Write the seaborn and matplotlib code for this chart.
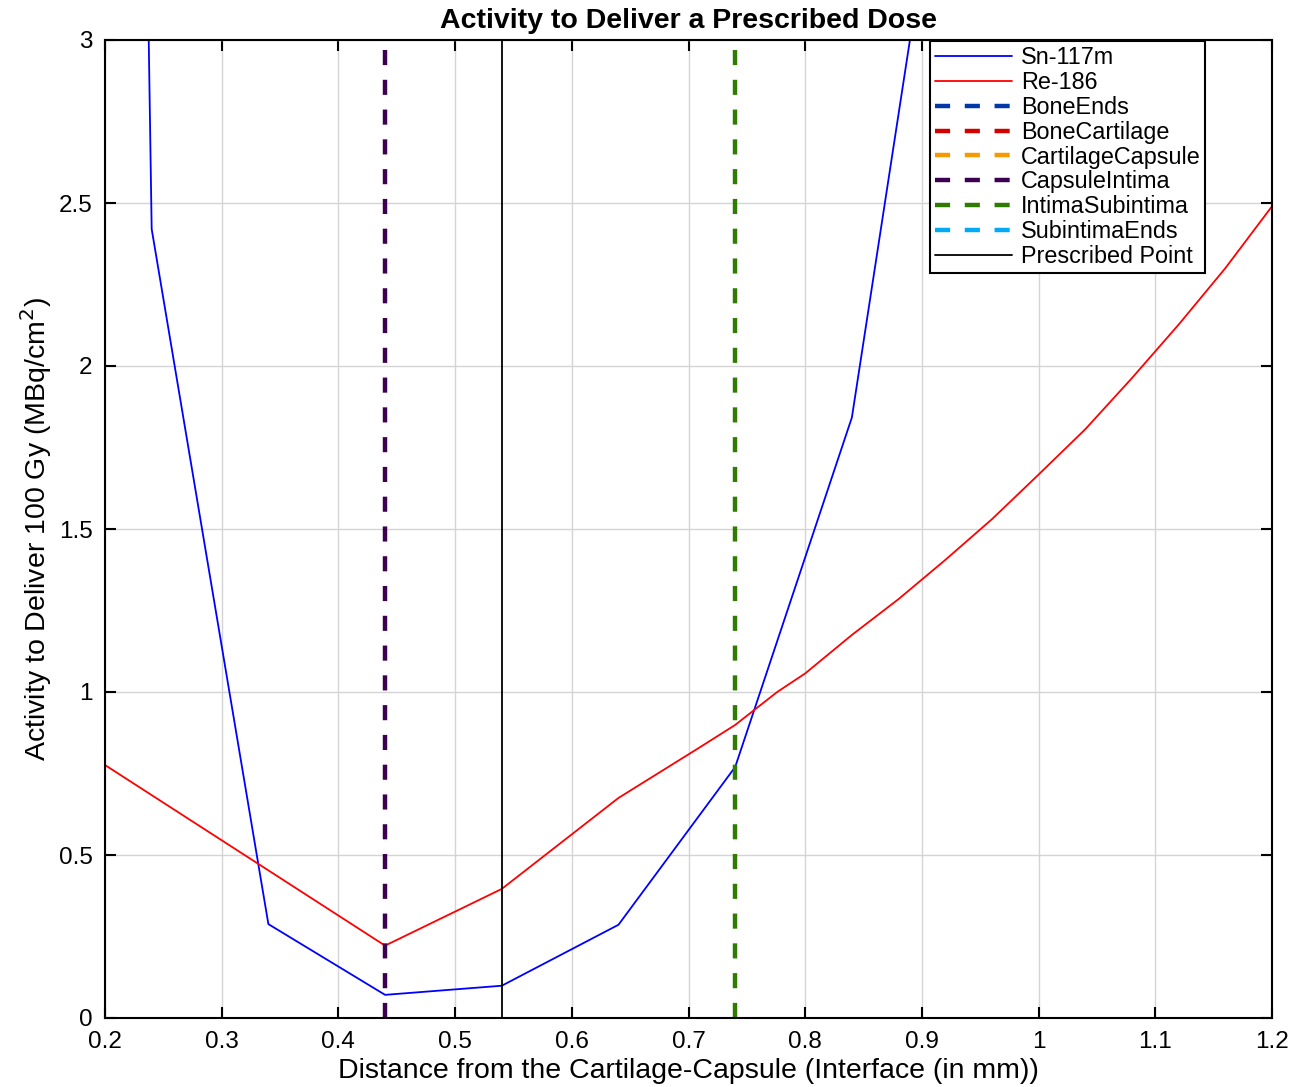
import matplotlib
matplotlib.use("Agg")
import matplotlib.pyplot as plt
import seaborn as sns
import pandas as pd

# ---- data ----
sn_x = [0.14, 0.24, 0.34, 0.44, 0.54, 0.64, 0.74, 0.84, 0.94]
sn_y = [25.3, 2.42, 0.288, 0.071, 0.099, 0.286, 0.770, 1.842, 4.17]

re_x = [0.20, 0.44, 0.54, 0.64, 0.71, 0.74, 0.776, 0.80, 0.84, 0.88, 0.92,
        0.96, 1.00, 1.04, 1.08, 1.12, 1.16, 1.20]
re_y = [0.776, 0.222, 0.396, 0.675, 0.831, 0.899, 1.000, 1.057, 1.175, 1.285,
        1.405, 1.530, 1.667, 1.806, 1.963, 2.127, 2.300, 2.490]

interface_names = ["BoneEnds", "BoneCartilage", "CartilageCapsule",
                   "CapsuleIntima", "IntimaSubintima", "SubintimaEnds"]
interface_x = [-3.06, -0.26, 0.0, 0.44, 0.74, 5.74]
interface_colors = ["#0038A8", "#D40000", "#F59B00", "#3D0050", "#2E7D00", "#00AAF5"]
prescribed_x = 0.54

x_ticks = [0.2, 0.3, 0.4, 0.5, 0.6, 0.7, 0.8, 0.9, 1.0, 1.1, 1.2]
x_tick_labels = ["0.2", "0.3", "0.4", "0.5", "0.6", "0.7", "0.8", "0.9", "1", "1.1", "1.2"]
y_ticks = [0, 0.5, 1, 1.5, 2, 2.5, 3]
y_tick_labels = ["0", "0.5", "1", "1.5", "2", "2.5", "3"]

# ---- style ----
sns.set_theme(style="whitegrid")
plt.rcParams["font.family"] = ["Liberation Sans", "DejaVu Sans"]
plt.rcParams["text.color"] = "black"
plt.rcParams["axes.labelcolor"] = "black"
plt.rcParams["xtick.color"] = "black"
plt.rcParams["ytick.color"] = "black"

fig = plt.figure(figsize=(12.94, 10.87), dpi=100)
ax = fig.add_axes([105 / 1294, 1 - 1018 / 1087, (1272 - 105) / 1294, (1018 - 40) / 1087])

df_sn = pd.DataFrame({"x": sn_x, "y": sn_y})
df_re = pd.DataFrame({"x": re_x, "y": re_y})

sns.lineplot(data=df_sn, x="x", y="y", ax=ax, color="#0000FF", lw=1.3,
             label="Sn-117m", sort=False, estimator=None)
sns.lineplot(data=df_re, x="x", y="y", ax=ax, color="#FF0000", lw=1.3,
             label="Re-186", sort=False, estimator=None)

for name, xv, c in zip(interface_names, interface_x, interface_colors):
    ax.axvline(xv, color=c, lw=3.2, linestyle=(0, (3.4, 3.3)), label=name)
ax.axvline(prescribed_x, color="black", lw=1.3, label="Prescribed Point")

ax.set_xlim(0.2, 1.2)
ax.set_ylim(0, 3)
ax.set_xticks(x_ticks)
ax.set_xticklabels(x_tick_labels)
ax.set_yticks(y_ticks)
ax.set_yticklabels(y_tick_labels)

ax.grid(True, color="#D4D4D4", lw=1.0)
ax.set_facecolor("white")
for s in ax.spines.values():
    s.set_color("black")
    s.set_linewidth(1.5)
ax.tick_params(axis="both", direction="in", length=8, width=1.5, colors="black",
               labelsize=17.5, top=True, right=True, bottom=True, left=True)
ax.tick_params(axis="x", pad=9)
ax.tick_params(axis="y", pad=9)

ax.set_title("Activity to Deliver a Prescribed Dose", fontsize=20.5, fontweight="bold",
             pad=9, color="black")
ax.set_xlabel("Distance from the Cartilage-Capsule (Interface (in mm))", fontsize=20.5,
              labelpad=4)
ax.set_ylabel("Activity to Deliver 100 Gy (MBq/cm$^2$)", fontsize=20.5, labelpad=3)

leg = ax.legend(loc="upper left", bbox_to_anchor=(0.707, 0.9985), borderaxespad=0,
                fontsize=16.8, frameon=True, fancybox=False, framealpha=1,
                edgecolor="black", handlelength=3.3, labelspacing=0.08,
                borderpad=0.2, handletextpad=0.4)
leg.get_frame().set_linewidth(1.5)

fig.savefig("out.png", dpi=100, facecolor="white")
